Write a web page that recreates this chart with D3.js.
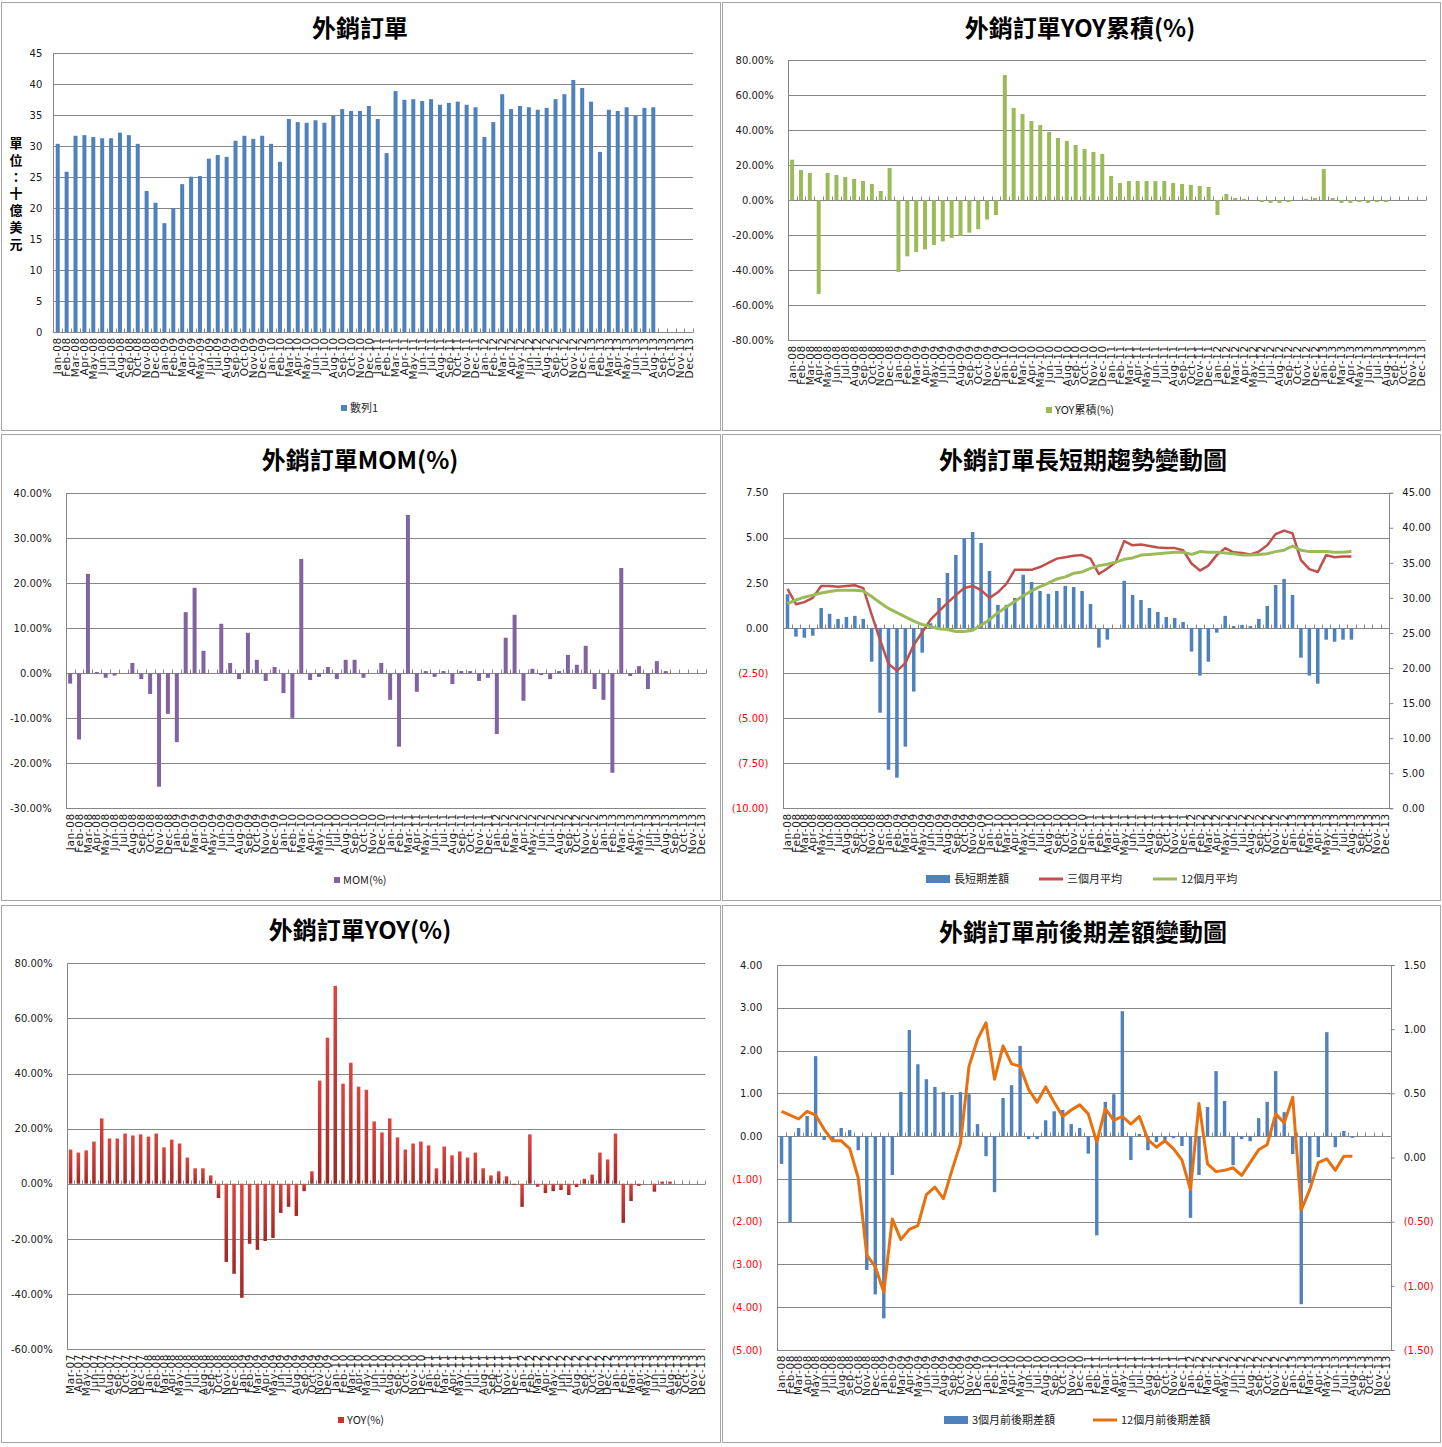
<!DOCTYPE html>
<html><head><meta charset="utf-8">
<script src="https://cdn.jsdelivr.net/npm/d3@7"></script>
<style>body{margin:0;background:#fff;} svg{display:block;}</style>
</head><body><svg id="c" width="1442" height="1447"></svg>
<script>
// ---------- DATA ----------
const categories = [
"Jan-08","Feb-08","Mar-08","Apr-08","May-08","Jun-08","Jul-08","Aug-08","Sep-08","Oct-08","Nov-08","Dec-08",
"Jan-09","Feb-09","Mar-09","Apr-09","May-09","Jun-09","Jul-09","Aug-09","Sep-09","Oct-09","Nov-09","Dec-09",
"Jan-10","Feb-10","Mar-10","Apr-10","May-10","Jun-10","Jul-10","Aug-10","Sep-10","Oct-10","Nov-10","Dec-10",
"Jan-11","Feb-11","Mar-11","Apr-11","May-11","Jun-11","Jul-11","Aug-11","Sep-11","Oct-11","Nov-11","Dec-11",
"Jan-12","Feb-12","Mar-12","Apr-12","May-12","Jun-12","Jul-12","Aug-12","Sep-12","Oct-12","Nov-12","Dec-12",
"Jan-13","Feb-13","Mar-13","Apr-13","May-13","Jun-13","Jul-13","Aug-13","Sep-13","Oct-13","Nov-13","Dec-13"];
const categoriesYoy = ["Mar-07","Apr-07","May-07","Jun-07","Jul-07","Aug-07","Sep-07","Oct-07","Nov-07","Dec-07"].concat(categories);

const exportOrders = [30.4,25.9,31.7,31.8,31.5,31.3,31.3,32.2,31.8,30.4,22.8,20.9,
17.6,20.0,23.9,25.1,25.2,28.0,28.6,28.3,30.9,31.7,31.2,31.7,
30.4,27.5,34.4,33.9,33.8,34.2,33.8,34.9,36.0,35.7,35.7,36.5,
34.4,28.9,38.9,37.5,37.6,37.3,37.6,36.7,37.0,37.2,36.7,36.3,
31.5,33.9,38.4,36.0,36.5,36.3,35.9,36.2,37.6,38.4,40.7,39.4,
37.2,29.1,35.9,35.7,36.3,35.0,36.2,36.3];

const yoyCumulative = [23.2,17.3,15.6,-53.5,15.6,14.5,13.3,12.2,11.0,9.3,5.3,18.5,
-41.0,-32.0,-29.5,-28.0,-25.5,-23.5,-21.5,-20.5,-18.5,-16.5,-11.0,-8.4,
71.6,52.8,49.3,45.3,43.0,39.0,35.6,33.9,31.6,29.3,27.6,26.5,
13.9,9.9,11.0,11.0,11.0,11.0,11.0,9.9,9.3,8.8,8.2,7.6,
-8.4,3.6,1.3,0.8,0,-1.0,-1.5,-1.5,-1.0,0,0.8,1.3,
17.9,1.3,-1.5,-1.5,-1.0,-1.5,-1.0,-1.0];

const mom = [-2.3,-14.7,22.1,0.3,-1.0,-0.5,0,2.3,-1.3,-4.6,-25.2,-9.0,
-15.3,13.6,19.0,5.0,0,11.0,2.3,-1.3,9.0,3.0,-1.7,1.4,
-4.4,-9.9,25.4,-1.5,-0.8,1.4,-1.3,3.0,3.0,-1.0,0,2.3,
-5.9,-16.3,35.2,-4.1,0.5,-0.8,0.5,-2.4,0.5,0.5,-1.7,-1.0,
-13.5,7.9,13.0,-6.1,1.0,-0.4,-1.3,0.5,4.1,1.9,6.1,-3.5,
-5.9,-22.1,23.4,-0.6,1.6,-3.5,2.7,0.5];

const longShortDiff = [1.87,-0.48,-0.54,-0.43,1.11,0.78,0.50,0.61,0.67,0.50,-1.87,-4.70,
-7.86,-8.30,-6.58,-3.53,-1.37,0.26,1.66,3.05,4.05,4.97,5.32,4.71,
3.16,1.28,1.28,1.66,2.95,2.55,2.05,1.89,2.05,2.33,2.27,2.05,
1.33,-1.09,-0.65,0,2.61,1.83,1.55,1.11,0.89,0.61,0.55,0.33,
-1.31,-2.64,-1.87,-0.26,0.67,0.11,0.17,0.11,0.50,1.22,2.38,2.72,
1.83,-1.65,-2.64,-3.09,-0.65,-0.76,-0.65,-0.65];

const avg3m = [31.3,29.1,29.4,30.0,31.7,31.7,31.6,31.7,31.8,31.4,27.6,24.0,
20.6,19.6,20.7,23.3,25.1,26.9,28.1,29.3,30.4,31.4,31.7,31.1,
30.0,30.8,32.0,34.0,34.0,34.0,34.4,35.0,35.6,35.8,36.0,36.1,
35.6,33.4,34.2,35.1,38.1,37.5,37.6,37.4,37.2,37.1,37.1,36.8,
34.9,33.9,34.6,36.1,37.1,36.5,36.4,36.2,36.6,37.5,39.1,39.6,
39.2,35.4,34.1,33.7,36.1,35.8,35.9,35.9];

const avg12m = [29.2,29.7,30.1,30.4,30.7,30.9,31.1,31.1,31.1,31.0,30.2,29.3,
28.5,27.9,27.3,26.7,26.2,25.9,25.6,25.5,25.2,25.2,25.4,26.1,
26.9,27.9,28.7,29.5,30.3,31.0,31.6,32.1,32.7,33.0,33.5,33.7,
34.2,34.6,34.8,35.1,35.5,35.7,36.1,36.2,36.3,36.4,36.5,36.5,
36.2,36.6,36.5,36.5,36.4,36.3,36.1,36.1,36.2,36.3,36.6,36.8,
37.4,36.8,36.6,36.6,36.6,36.5,36.5,36.6];

const yoy = [12.4,11.3,12.1,15.3,23.7,16.4,16.4,18.2,17.5,17.9,
17.1,18.2,13.2,16.0,14.6,9.5,5.6,5.6,3.0,-5.2,-28.4,-32.7,
-41.4,-21.8,-24.0,-20.8,-19.7,-10.6,-8.4,-11.7,-2.7,4.5,37.4,53.0,
71.8,36.3,43.9,35.2,34.1,22.6,18.6,23.7,16.8,12.4,14.6,15.3,
13.9,5.6,13.5,10.3,11.7,9.5,11.3,5.6,3.0,4.5,2.7,-0.4,
-8.4,17.9,-1.1,-3.4,-2.7,-2.3,-4.1,-1.2,1.8,3.3,11.3,8.8,
18.2,-14.2,-6.3,-0.8,0,-2.9,0.8,0.8];

const diff3m = [-0.65,-2.01,0.19,0.47,1.87,-0.09,-0.12,0.19,0.14,-0.33,-3.13,-3.70,
-4.26,-0.91,1.03,2.48,1.68,1.33,1.15,1.03,0.96,1.03,0.98,0.28,
-0.47,-1.31,0.89,1.19,2.11,-0.07,-0.07,0.37,0.58,0.61,0.28,0.19,
-0.41,-2.32,0.80,0.98,2.92,-0.56,0.05,-0.33,-0.14,-0.10,-0.05,-0.23,
-1.91,-0.91,0.68,1.52,0.82,-0.68,-0.07,-0.12,0.42,0.80,1.52,0.56,
-0.42,-3.93,-1.10,-0.49,2.43,-0.26,0.12,-0.04];

const diff12m = [0.36,0.33,0.30,0.36,0.33,0.22,0.13,0.13,0.07,-0.16,-0.76,-0.85,
-1.05,-0.48,-0.64,-0.56,-0.53,-0.29,-0.23,-0.32,-0.10,0.11,0.71,0.92,
1.05,0.61,0.87,0.73,0.71,0.53,0.43,0.55,0.43,0.32,0.37,0.41,
0.34,0.12,0.38,0.29,0.32,0.26,0.32,0.14,0.08,0.13,0.07,-0.02,
-0.25,0.42,-0.05,-0.11,-0.10,-0.08,-0.14,-0.04,0.06,0.10,0.34,0.27,
0.47,-0.41,-0.25,-0.04,-0.01,-0.10,0.01,0.01];

const ticksOrders = [0,5,10,15,20,25,30,35,40,45];
const ticksYoyCum = [-80,-60,-40,-20,0,20,40,60,80];
const ticksMom = [-30,-20,-10,0,10,20,30,40];
const ticksTrendLeft = [-10,-7.5,-5,-2.5,0,2.5,5,7.5];
const ticksTrendRight = [0,5,10,15,20,25,30,35,40,45];
const ticksYoy = [-60,-40,-20,0,20,40,60,80];
const ticksDiffLeft = [-5,-4,-3,-2,-1,0,1,2,3,4];
const ticksDiffRight = [-1.5,-1,-0.5,0,0.5,1,1.5];

// ---------- DRAWING ----------
const svg = d3.select("#c");
const LAT = '"DejaVu Sans", Verdana, sans-serif';
const CJK = '"Noto Sans CJK TC", "Noto Sans CJK SC", sans-serif';
const GRID = "#868686";
const BLUE = "#4f81bd", GREEN = "#9bbb59", PURPLE = "#8064a2", RED = "#c0504d", ORANGE = "#e8700e";

const defs = svg.append("defs");
const grad = defs.append("linearGradient").attr("id","redGrad").attr("x1",0).attr("y1",0).attr("x2",0).attr("y2",1);
grad.append("stop").attr("offset","0%").attr("stop-color","#e0443f");
grad.append("stop").attr("offset","100%").attr("stop-color","#a02826");

const fmtInt = d => String(d);
const fmtPct = d => d.toFixed(2) + "%";
const fmtParen = d => d < 0 ? "(" + Math.abs(d).toFixed(2) + ")" : d.toFixed(2);

function drawPanel(c) {
  const g = svg.append("g");
  g.append("rect").attr("x", c.box[0] + 0.5).attr("y", c.box[1] + 0.5)
    .attr("width", c.box[2]).attr("height", c.box[3])
    .attr("fill", "#fff").attr("stroke", "#a6a6a6");
  g.append("text").attr("x", c.titleX).attr("y", c.titleY).attr("text-anchor", "middle")
    .attr("font-family", CJK).attr("font-weight", "bold").attr("font-size", 24).attr("fill", "#000")
    .text(c.title);

  const x = d3.scaleBand().domain(c.cats).range([c.l, c.r]);
  const y = d3.scaleLinear().domain(c.yDomain).range([c.b, c.t]);
  const bw = x.bandwidth();

  // gridlines
  const grid = g.append("g").attr("transform", `translate(${c.l},0)`)
    .call(d3.axisLeft(y).tickValues(c.yTicks).tickSize(-(c.r - c.l)).tickFormat(""));
  grid.select(".domain").remove();
  grid.selectAll("line").attr("stroke", GRID).attr("shape-rendering", "crispEdges");

  // left axis
  const ya = g.append("g").attr("transform", `translate(${c.l},0)`)
    .call(d3.axisLeft(y).tickValues(c.yTicks).tickSize(0).tickPadding(c.gap).tickFormat(c.fmt));
  ya.select(".domain").attr("stroke", GRID).attr("shape-rendering", "crispEdges");
  ya.selectAll("text").attr("font-family", LAT).attr("font-size", 10)
    .attr("fill", d => (c.redNeg && d < 0) ? "#ff0000" : "#1a1a1a");

  // right axis
  let y2 = null;
  if (c.y2Domain) {
    y2 = d3.scaleLinear().domain(c.y2Domain).range([c.b, c.t]);
    const ra = g.append("g").attr("transform", `translate(${c.r},0)`)
      .call(d3.axisRight(y2).tickValues(c.y2Ticks).tickSize(4).tickPadding(9).tickFormat(fmtParen));
    ra.select(".domain").attr("stroke", GRID).attr("shape-rendering", "crispEdges");
    ra.selectAll("line").attr("stroke", GRID);
    ra.selectAll("text").attr("font-family", LAT).attr("font-size", 10)
      .attr("fill", d => d < 0 ? "#ff0000" : "#1a1a1a");
  }

  const y0 = Math.round(y(0)) + 0.5;
  // bars
  const w = bw * c.barFrac;
  g.append("g").selectAll("rect").data(c.bars).join("rect")
    .attr("x", (d, i) => x(c.cats[i]) + (bw - w) / 2)
    .attr("y", d => Math.min(y(d), y(0)))
    .attr("width", w)
    .attr("height", d => Math.abs(y(d) - y(0)))
    .attr("fill", c.barColor);

  // category tick marks on zero line
  const tk = c.cats.map(cat => x(cat)).concat([c.r]);
  g.append("g").selectAll("line").data(tk).join("line")
    .attr("x1", d => Math.round(d) + 0.5).attr("x2", d => Math.round(d) + 0.5)
    .attr("y1", y0).attr("y2", y0 - 4).attr("stroke", GRID);

  // category labels at bottom
  const xa = g.append("g").attr("transform", `translate(0,${c.b})`)
    .call(d3.axisBottom(x).tickSize(0));
  xa.select(".domain").remove();
  xa.selectAll("text").attr("font-family", LAT).attr("font-size", 10.5).attr("fill", "#1a1a1a")
    .attr("letter-spacing", "0.6px")
    .attr("transform", "rotate(-90)").attr("text-anchor", "end")
    .attr("x", -5).attr("y", 0).attr("dy", "0.35em");

  // lines on secondary axis
  (c.lines || []).forEach(L => {
    const line = d3.line().x((d, i) => x(c.cats[i]) + bw / 2).y(d => y2(d));
    g.append("path").datum(L.values).attr("d", line).attr("fill", "none")
      .attr("stroke", L.color).attr("stroke-width", L.width).attr("stroke-linejoin", "round");
  });

  // legend
  c.legend.forEach(it => {
    if (it.type === "sq") {
      g.append("rect").attr("x", it.x).attr("y", it.y - 3).attr("width", 6).attr("height", 6).attr("fill", it.color);
      g.append("text").attr("x", it.x + 9).attr("y", it.y).attr("dy", "0.35em")
        .attr("font-family", CJK).attr("font-size", 11).attr("fill", "#1a1a1a").text(it.label);
    } else if (it.type === "rect") {
      g.append("rect").attr("x", it.x).attr("y", it.y - 4).attr("width", 24).attr("height", 8).attr("fill", it.color);
      g.append("text").attr("x", it.x + 28).attr("y", it.y).attr("dy", "0.35em")
        .attr("font-family", CJK).attr("font-size", 11).attr("fill", "#1a1a1a").text(it.label);
    } else {
      g.append("line").attr("x1", it.x).attr("x2", it.x + 24).attr("y1", it.y).attr("y2", it.y)
        .attr("stroke", it.color).attr("stroke-width", 3);
      g.append("text").attr("x", it.x + 28).attr("y", it.y).attr("dy", "0.35em")
        .attr("font-family", CJK).attr("font-size", 11).attr("fill", "#1a1a1a").text(it.label);
    }
  });
  return g;
}

// Panel 1
const g1 = drawPanel({
  box: [1, 2, 719, 428], title: "外銷訂單", titleX: 360, titleY: 37,
  cats: categories, l: 53.3, r: 693.3, t: 53.3, b: 332.3,
  yDomain: [0, 45], yTicks: ticksOrders, fmt: fmtInt, gap: 11,
  bars: exportOrders, barColor: BLUE, barFrac: 0.45,
  legend: [{ type: "sq", x: 341, y: 408, color: BLUE, label: "數列1" }]
});
const yTitle = g1.append("text").attr("font-family", CJK).attr("font-weight", "bold")
  .attr("font-size", 13).attr("text-anchor", "middle").attr("fill", "#000");
"單位：十億美元".split("").forEach((ch, i) => {
  yTitle.append("tspan").attr("x", 16).attr("y", 148 + i * 16.8).text(ch);
});

// Panel 2
drawPanel({
  box: [722, 2, 718, 428], title: "外銷訂單YOY累積(%)", titleX: 1080, titleY: 37,
  cats: categories, l: 787.7, r: 1425.7, t: 60.3, b: 340.3,
  yDomain: [-80, 80], yTicks: ticksYoyCum, fmt: fmtPct, gap: 14,
  bars: yoyCumulative, barColor: GREEN, barFrac: 0.45,
  legend: [{ type: "sq", x: 1046, y: 410, color: GREEN, label: "YOY累積(%)" }]
});

// Panel 3
drawPanel({
  box: [1, 434, 719, 466], title: "外銷訂單MOM(%)", titleX: 360, titleY: 469,
  cats: categories, l: 65.7, r: 705.7, t: 493.3, b: 808.3,
  yDomain: [-30, 40], yTicks: ticksMom, fmt: fmtPct, gap: 14,
  bars: mom, barColor: PURPLE, barFrac: 0.45,
  legend: [{ type: "sq", x: 334, y: 880, color: PURPLE, label: "MOM(%)" }]
});

// Panel 4
drawPanel({
  box: [722, 434, 718, 466], title: "外銷訂單長短期趨勢變動圖", titleX: 1083, titleY: 469,
  cats: categories, l: 783.3, r: 1389.3, t: 492.7, b: 808.3,
  yDomain: [-10, 7.5], yTicks: ticksTrendLeft, fmt: fmtParen, gap: 15, redNeg: true,
  y2Domain: [0, 45], y2Ticks: ticksTrendRight,
  bars: longShortDiff, barColor: BLUE, barFrac: 0.42,
  lines: [{ values: avg3m, color: RED, width: 2.5 }, { values: avg12m, color: GREEN, width: 3 }],
  legend: [
    { type: "rect", x: 926, y: 879, color: BLUE, label: "長短期差額" },
    { type: "line", x: 1039, y: 879, color: RED, label: "三個月平均" },
    { type: "line", x: 1153, y: 879, color: GREEN, label: "12個月平均" }
  ]
});

// Panel 5
drawPanel({
  box: [1, 905, 719, 537], title: "外銷訂單YOY(%)", titleX: 360, titleY: 939,
  cats: categoriesYoy, l: 66.7, r: 705, t: 963.3, b: 1349,
  yDomain: [-60, 80], yTicks: ticksYoy, fmt: fmtPct, gap: 14,
  bars: yoy, barColor: "url(#redGrad)", barFrac: 0.45,
  legend: [{ type: "sq", x: 338, y: 1420, color: "#c0392f", label: "YOY(%)" }]
});

// Panel 6
drawPanel({
  box: [722, 905, 718, 537], title: "外銷訂單前後期差額變動圖", titleX: 1083, titleY: 941,
  cats: categories, l: 777.3, r: 1390.7, t: 965, b: 1350,
  yDomain: [-5, 4], yTicks: ticksDiffLeft, fmt: fmtParen, gap: 15, redNeg: true,
  y2Domain: [-1.5, 1.5], y2Ticks: ticksDiffRight,
  bars: diff3m, barColor: BLUE, barFrac: 0.4,
  lines: [{ values: diff12m, color: ORANGE, width: 3 }],
  legend: [
    { type: "rect", x: 944, y: 1420, color: BLUE, label: "3個月前後期差額" },
    { type: "line", x: 1093, y: 1420, color: ORANGE, label: "12個月前後期差額" }
  ]
});
</script></body></html>
